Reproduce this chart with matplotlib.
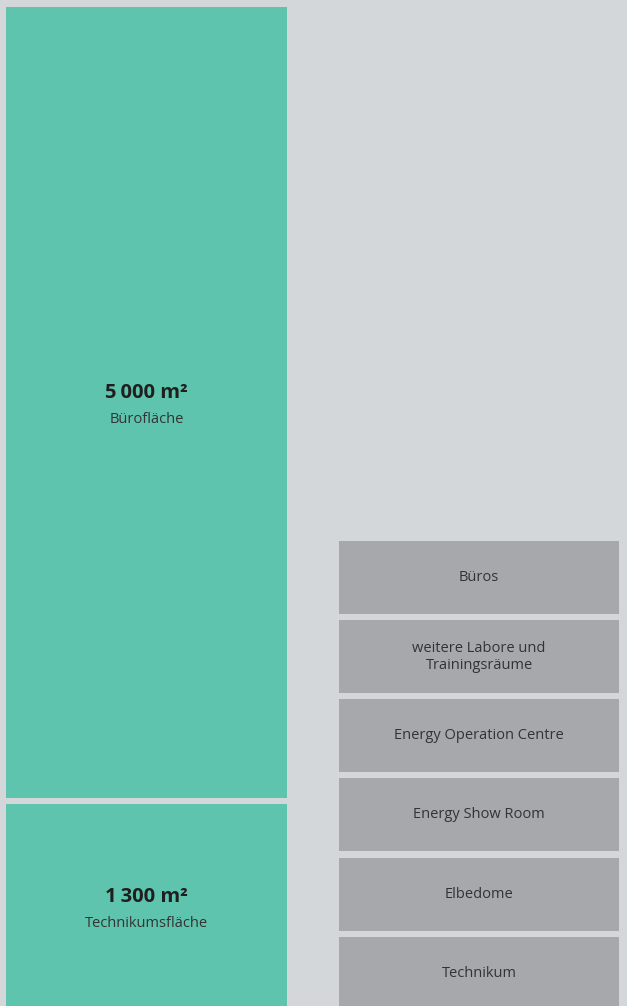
import matplotlib
matplotlib.use("Agg")
import matplotlib.pyplot as plt

# Data
main_values = [1300, 5000]              # m², bottom to top
main_labels = ["Technikumsfläche", "Bürofläche"]
main_value_text = ["1\u2009300 m²", "5\u2009000 m²"]
room_labels = ["Technikum", "Elbedome", "Energy Show Room",
               "Energy Operation Centre", "weitere Labore und\nTrainingsräume", "Büros"]
room_heights = [462, 462, 462, 462, 462, 462]

BG = "#d3d7da"
TEAL = "#5fc4ae"
GREY = "#a7a8ab"
GAP = 38
FAM = ["Open Sans", "DejaVu Sans"]

fig = plt.figure(figsize=(6.27, 10.06), dpi=100, facecolor=BG)
ax = fig.add_axes([0, 0, 1, 1])
ax.set_facecolor(BG)
ax.set_xlim(0, 627)
ax.set_ylim(23.4, 6382)
ax.axis("off")

# Left stacked bars
bottom = 0
for val, lab, vt in zip(main_values, main_labels, main_value_text):
    ax.bar(146.5, val, width=281, bottom=bottom, color=TEAL, linewidth=0)
    cy = bottom + val / 2
    ax.annotate(vt, (146.5, cy), xytext=(0, 7), textcoords="offset points",
                ha="center", va="center", fontsize=14.5, fontweight="bold",
                color="#1f1f1f", family=FAM)
    ax.annotate(lab, (146.5, cy), xytext=(0, -12), textcoords="offset points",
                ha="center", va="center", fontsize=10.5, color="#333333", family=FAM)
    bottom += val + GAP

# Right stacked boxes
bottom = 0
for h, lab in zip(room_heights, room_labels):
    ax.bar(479, h, width=280, bottom=bottom, color=GREY, linewidth=0)
    ax.text(479, bottom + h / 2, lab, ha="center", va="center", fontsize=10.5,
            color="#333333", family=FAM, linespacing=1.15)
    bottom += h + GAP

fig.savefig("out.png", dpi=100, facecolor=BG)
